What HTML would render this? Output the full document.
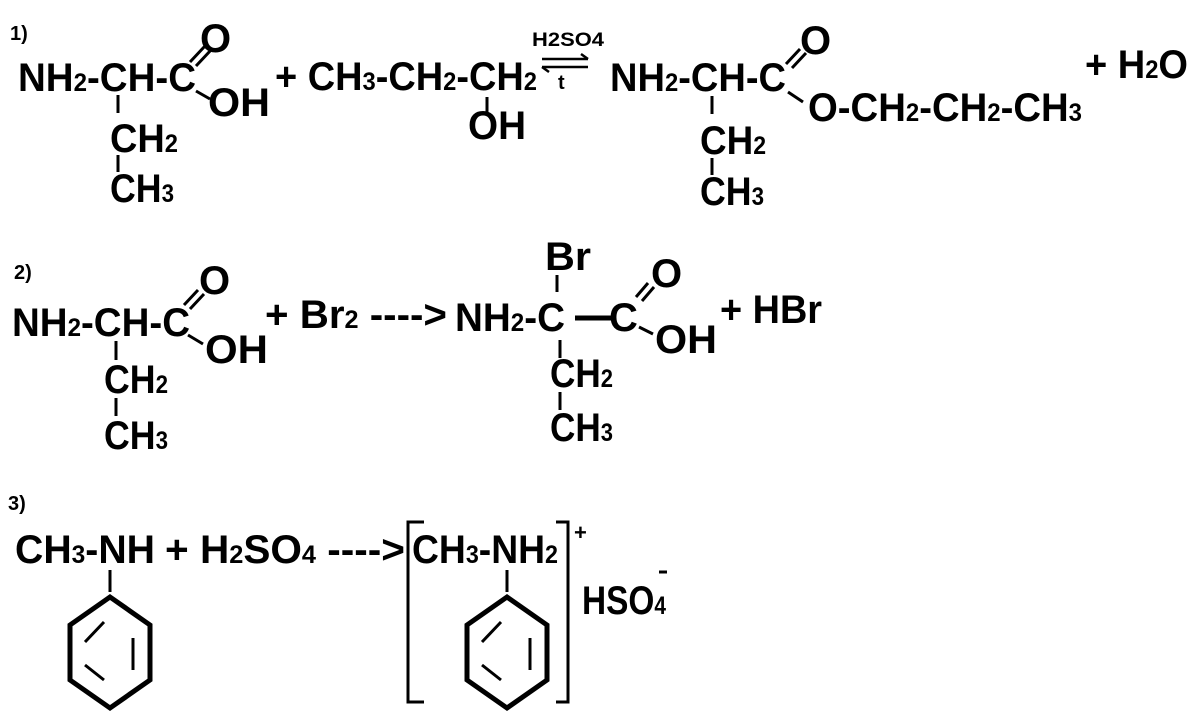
<!DOCTYPE html>
<html><head><meta charset="utf-8"><style>
html,body{margin:0;padding:0;background:#fff;}
svg{display:block;}
text{font-family:"Liberation Sans",sans-serif;font-weight:bold;fill:#000;}
.b{font-size:40px;}
.s{font-size:25px;}
line,polyline,polygon{stroke:#000;fill:none;}
</style></head><body>
<svg width="1200" height="727" viewBox="0 0 1200 727" xmlns="http://www.w3.org/2000/svg">
<!-- Reaction 1 -->
<text x="10" y="40" style="font-size:20px">1)</text>
<text class="b" x="18" y="91" textLength="178" lengthAdjust="spacingAndGlyphs">NH<tspan class="s">2</tspan>-CH-C</text>
<text class="b" x="200" y="52">O</text>
<line x1="190" y1="62" x2="205" y2="46" stroke-width="3"/>
<line x1="196" y1="66" x2="211" y2="50" stroke-width="3"/>
<text class="b" x="208" y="116" textLength="62" lengthAdjust="spacingAndGlyphs">OH</text>
<line x1="196" y1="91" x2="210" y2="99" stroke-width="3"/>
<line x1="118" y1="95" x2="118" y2="113" stroke-width="3"/>
<text class="b" x="110" y="152" textLength="68" lengthAdjust="spacingAndGlyphs">CH<tspan class="s">2</tspan></text>
<line x1="118" y1="155" x2="118" y2="172" stroke-width="3"/>
<text class="b" x="110" y="202" textLength="64" lengthAdjust="spacingAndGlyphs">CH<tspan class="s">3</tspan></text>
<text class="b" x="275" y="90" textLength="262" lengthAdjust="spacingAndGlyphs">+ CH<tspan class="s">3</tspan>-CH<tspan class="s">2</tspan>-CH<tspan class="s">2</tspan></text>
<line x1="487" y1="97" x2="487" y2="113" stroke-width="3"/>
<text class="b" x="468" y="139" textLength="58" lengthAdjust="spacingAndGlyphs">OH</text>
<text x="532" y="46" style="font-size:19px" textLength="72" lengthAdjust="spacingAndGlyphs">H2SO4</text>
<line x1="542" y1="59" x2="588" y2="59" stroke-width="2.5"/>
<polyline points="581,54 588,59" stroke-width="2.5"/>
<line x1="542" y1="67" x2="588" y2="67" stroke-width="2.5"/>
<polyline points="549,72 542,67" stroke-width="2.5"/>
<text x="558" y="89" style="font-size:20px">t</text>
<text class="b" x="610" y="91" textLength="176" lengthAdjust="spacingAndGlyphs">NH<tspan class="s">2</tspan>-CH-C</text>
<text class="b" x="800" y="54">O</text>
<line x1="786" y1="64" x2="800" y2="49" stroke-width="3"/>
<line x1="792" y1="68" x2="806" y2="53" stroke-width="3"/>
<line x1="788" y1="92" x2="803" y2="102" stroke-width="3"/>
<text class="b" x="808" y="121" textLength="274" lengthAdjust="spacingAndGlyphs">O-CH<tspan class="s">2</tspan>-CH<tspan class="s">2</tspan>-CH<tspan class="s">3</tspan></text>
<line x1="712" y1="96" x2="712" y2="114" stroke-width="3"/>
<text class="b" x="700" y="154" textLength="66" lengthAdjust="spacingAndGlyphs">CH<tspan class="s">2</tspan></text>
<line x1="712" y1="158" x2="712" y2="175" stroke-width="3"/>
<text class="b" x="700" y="205" textLength="64" lengthAdjust="spacingAndGlyphs">CH<tspan class="s">3</tspan></text>
<text class="b" x="1085" y="78" textLength="103" lengthAdjust="spacingAndGlyphs">+ H<tspan class="s">2</tspan>O</text>

<!-- Reaction 2 -->
<text x="14" y="279" style="font-size:20px">2)</text>
<text class="b" x="12" y="336" textLength="178" lengthAdjust="spacingAndGlyphs">NH<tspan class="s">2</tspan>-CH-C</text>
<text class="b" x="199" y="294">O</text>
<line x1="184" y1="305" x2="198" y2="290" stroke-width="3"/>
<line x1="190" y1="309" x2="204" y2="294" stroke-width="3"/>
<line x1="188" y1="335" x2="203" y2="344" stroke-width="3"/>
<text class="b" x="205" y="363" textLength="63" lengthAdjust="spacingAndGlyphs">OH</text>
<line x1="116" y1="341" x2="116" y2="360" stroke-width="3"/>
<text class="b" x="104" y="393" textLength="64" lengthAdjust="spacingAndGlyphs">CH<tspan class="s">2</tspan></text>
<line x1="116" y1="398" x2="116" y2="416" stroke-width="3"/>
<text class="b" x="104" y="449" textLength="64" lengthAdjust="spacingAndGlyphs">CH<tspan class="s">3</tspan></text>
<text class="b" x="265" y="328" textLength="182" lengthAdjust="spacingAndGlyphs">+ Br<tspan class="s">2</tspan> ----&gt;</text>
<text class="b" x="455" y="331" textLength="110" lengthAdjust="spacingAndGlyphs">NH<tspan class="s">2</tspan>-C</text>
<line x1="575" y1="318" x2="611" y2="318" stroke-width="5"/>
<text class="b" x="609" y="331">C</text>
<text class="b" x="545" y="270" textLength="46" lengthAdjust="spacingAndGlyphs">Br</text>
<line x1="557" y1="275" x2="557" y2="292" stroke-width="3"/>
<text class="b" x="651" y="287">O</text>
<line x1="636" y1="297" x2="648" y2="283" stroke-width="3"/>
<line x1="642" y1="301" x2="654" y2="287" stroke-width="3"/>
<line x1="639" y1="327" x2="653" y2="334" stroke-width="3"/>
<text class="b" x="655" y="353" textLength="62" lengthAdjust="spacingAndGlyphs">OH</text>
<line x1="560" y1="340" x2="560" y2="358" stroke-width="3"/>
<text class="b" x="550" y="387" textLength="63" lengthAdjust="spacingAndGlyphs">CH<tspan class="s">2</tspan></text>
<line x1="560" y1="392" x2="560" y2="410" stroke-width="3"/>
<text class="b" x="550" y="441" textLength="63" lengthAdjust="spacingAndGlyphs">CH<tspan class="s">3</tspan></text>
<text class="b" x="720" y="323" textLength="102" lengthAdjust="spacingAndGlyphs">+ HBr</text>

<!-- Reaction 3 -->
<text x="8" y="510" style="font-size:20px">3)</text>
<text class="b" x="15" y="563" textLength="140" lengthAdjust="spacingAndGlyphs">CH<tspan class="s">3</tspan>-NH</text>
<text class="b" x="165" y="563" textLength="240" lengthAdjust="spacingAndGlyphs">+ H<tspan class="s">2</tspan>SO<tspan class="s">4</tspan> ----&gt;</text>
<line x1="110" y1="570" x2="110" y2="592" stroke-width="3"/>
<polygon points="110,597 150,625 150,680 110,708 70,680 70,625" stroke-width="5"/>
<line x1="85" y1="642" x2="104" y2="622" stroke-width="3"/>
<line x1="133" y1="638" x2="133" y2="670" stroke-width="3"/>
<line x1="85" y1="665" x2="104" y2="680" stroke-width="3"/>
<polyline points="424,522 408,522 408,702 424,702" stroke-width="3"/>
<text class="b" x="412" y="563" textLength="146" lengthAdjust="spacingAndGlyphs">CH<tspan class="s">3</tspan>-NH<tspan class="s">2</tspan></text>
<polyline points="556,522 568,522 568,702 556,702" stroke-width="3"/>
<text x="574" y="540" style="font-size:22px">+</text>
<line x1="507" y1="570" x2="507" y2="592" stroke-width="3"/>
<polygon points="507,597 547,625 547,680 507,708 467,680 467,625" stroke-width="5"/>
<line x1="482" y1="642" x2="501" y2="622" stroke-width="3"/>
<line x1="530" y1="638" x2="530" y2="670" stroke-width="3"/>
<line x1="482" y1="665" x2="501" y2="680" stroke-width="3"/>
<text class="b" x="582" y="614" textLength="84" lengthAdjust="spacingAndGlyphs">HSO<tspan class="s">4</tspan></text>
<line x1="659" y1="572" x2="667" y2="572" stroke-width="3"/>
</svg>
</body></html>
